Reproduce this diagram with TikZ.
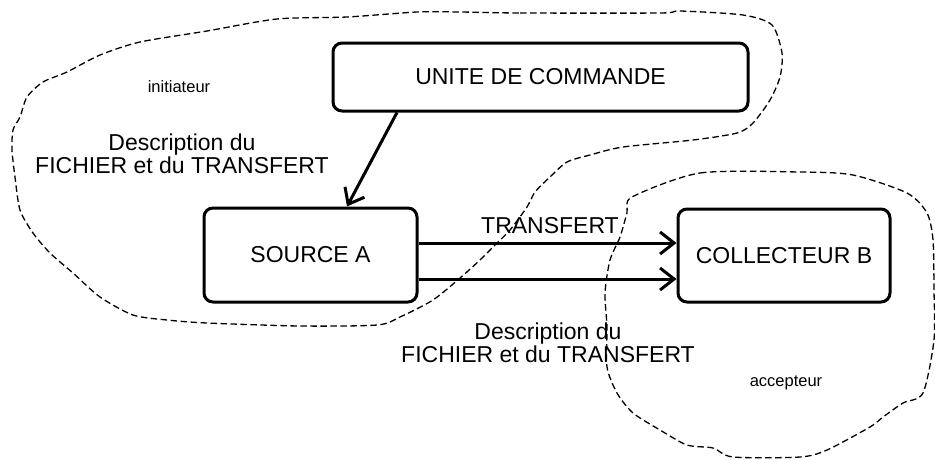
\documentclass[tikz,border=0pt]{standalone}
\usepackage{fontspec}
\setmainfont{Liberation Sans}
\usetikzlibrary{arrows.meta}
\begin{document}
\begin{tikzpicture}[x=1pt,y=-1pt,
  block/.style={draw, line width=3pt, rounded corners=9pt, inner sep=0pt,
    font=\fontsize{23}{25}\selectfont},
  flow/.style={line width=3pt, -{Straight Barb[length=14pt,width=22pt,line width=3pt]}},
  label/.style={align=center, font=\fontsize{23}{23.5}\selectfont, inner sep=0pt},
  small/.style={font=\fontsize{16.5}{18}\selectfont, inner sep=0pt},
  zone/.style={draw, line width=1.3pt, dash pattern=on 6.5pt off 3.5pt}]
\useasboundingbox (0,0) rectangle (935,459);

% dashed zones
\draw[zone] plot[smooth cycle, tension=0.45] coordinates {
  (460,12) (520,13) (660,13) (680,11) (743,15) (772,25) (782,53) (780,77)
  (770,100) (753,123) (737,133) (693,140) (623,147) (590,155) (567,162)
  (550,177) (535,192) (527,207) (510,230) (497,243) (480,260) (460,278)
  (433,300) (400,317) (377,325) (300,326) (207,323) (167,320) (133,315)
  (100,297) (73,273) (50,253) (33,233) (20,210) (15,177) (12,150) (13,130)
  (20,117) (27,97) (43,82) (67,72) (100,55) (140,42) (207,31) (277,19)
  (347,17) (417,12)};
\draw[zone] plot[smooth cycle, tension=0.45] coordinates {
  (632,197) (700,173) (800,172) (853,175) (907,193) (927,213) (933,240)
  (934,290) (934,340) (923,393) (903,403) (883,417) (870,427) (827,450)
  (800,457) (733,457) (713,448) (687,445) (660,430) (633,413) (617,393)
  (607,367) (607,327) (605,293) (610,260) (620,237) (627,213)};

% blocks
\node[block, minimum width=415pt, minimum height=68pt] (uc) at (540.5,77) {UNITE DE COMMANDE};
\node[block, minimum width=213pt, minimum height=94pt] (src) at (310.5,255) {SOURCE A};
\node[block, minimum width=212pt, minimum height=93pt] (col) at (784,255.5) {COLLECTEUR B};

% connectors
\coordinate (ucOut) at (uc.south -| 397,0);
\coordinate (srcIn) at (src.north -| 347,0);
\draw[flow] (ucOut) -- (srcIn);
\coordinate (s1) at (src.east |- 0,243);
\coordinate (s2) at (src.east |- 0,279);
\draw[flow] (s1) -- (col.west |- s1);
\draw[flow] (s2) -- (col.west |- s2);

% labels
\node[small] (ini) at (179,87) {initiateur};
\node[small] (acc) at (786,383) {accepteur};
\node[label] (d1) at (182,154) {Description du\\FICHIER et du TRANSFERT};
\node[label] (tr) at (550,226) {TRANSFERT};
\node[label] (d2) at (548,343) {Description du\\FICHIER et du TRANSFERT};
\end{tikzpicture}
\end{document}
